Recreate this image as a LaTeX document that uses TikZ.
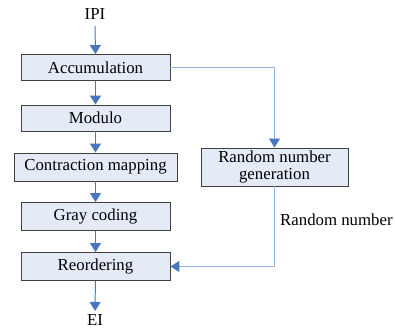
\documentclass[tikz,border=0pt]{standalone}
\usepackage{fontspec}
\setmainfont{Liberation Serif}
\newfontfamily\timesfont{Liberation Serif}
\usetikzlibrary{arrows.meta}

\definecolor{boxfill}{HTML}{E4EBF6}
\definecolor{flowblue}{HTML}{4A76C0}
\definecolor{sideblue}{HTML}{95B3DD}

\begin{document}
\begin{tikzpicture}[x=1pt, y=-1pt,
		every node/.style={font=\timesfont\fontsize{16.8}{19}\selectfont},
		stage/.style={draw=black!75, line width=0.9pt, fill=boxfill, minimum width=149pt, minimum height=26pt, inner sep=1pt, align=center},
		flow/.style={draw=flowblue, line width=1pt, -{Triangle[width=11pt,length=9pt]}},
		side/.style={draw=sideblue, line width=1pt, -{Triangle[width=11pt,length=9pt,color=flowblue]}}]
\useasboundingbox (0,0) rectangle (395,331);
\node (ipi) at (95,14) {IPI};
\node[stage] (acc) at (95.5,67.5) {Accumulation};
\node[stage] (mod) at (95.5,118) {Modulo};
\node[stage, minimum width=163pt, minimum height=28pt] (con) at (95.5,167) {Contraction mapping};
\node[stage, minimum height=28pt] (gray) at (95.5,216.5) {Gray coding};
\node[stage, minimum height=28pt] (reo) at (95.5,266.5) {Reordering};
\node (ei) at (95,320) {EI};
\node[stage, minimum width=147pt, minimum height=38pt, font=\timesfont\fontsize{16.8}{17}\selectfont] (rng) at (274.5,167) {Random number\\generation};
\node[anchor=west, inner sep=0pt] (rnum) at (280,220) {Random number};
\coordinate (turn) at (rng.south |- reo.east);

\draw[flow] (ipi.south) ++(0,3) -- (acc.north);
\draw[flow] (acc) -- (mod);
\draw[flow] (mod) -- (con);
\draw[flow] (con) -- (gray);
\draw[flow] (gray) -- (reo);
\draw[flow] (reo) -- (ei);
\draw[side] (acc.east) -| (rng.north);
\draw[side] (rng.south) -- (turn) -- (reo.east);
\end{tikzpicture}
\end{document}
